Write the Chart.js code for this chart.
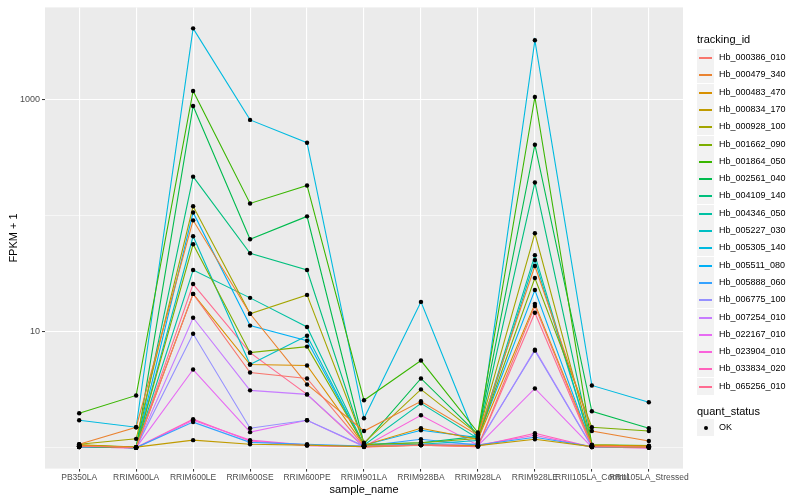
<!DOCTYPE html>
<html>
<head>
<meta charset="utf-8">
<script src="https://cdn.jsdelivr.net/npm/chart.js@4.4.1/dist/chart.umd.min.js"></script>
<style>
  body { margin: 0; background: #fff; font-family: "Liberation Sans", Arial, sans-serif; }
  #wrap { position: relative; width: 800px; height: 500px; }
  canvas { position: absolute; left: 0; top: 0; }
  .lg-title { position: absolute; left: 697px; font-size: 11px; color: #000; line-height: 12px; }
  .lg-key { position: absolute; left: 697px; width: 17px; height: 17px; background: #F2F2F2; }
  .lg-key span { position: absolute; left: 2px; right: 2px; top: 8px; height: 1px; border-top: 0.5px solid; }
  .lg-key i { position: absolute; left: 7px; top: 7px; width: 4px; height: 4px; border-radius: 2px; background: #000; }
  .lg-label { position: absolute; left: 719px; font-size: 9px; line-height: 10px; color: #000; }
</style>
</head>
<body>
<div id="wrap">
  <canvas id="chart" width="800" height="500"></canvas>
  <div id="legend"></div>
</div>
<script>
const sampleNames = ["PB350LA", "RRIM600LA", "RRIM600LE", "RRIM600SE", "RRIM600PE", "RRIM901LA",
  "RRIM928BA", "RRIM928LA", "RRIM928LE", "RRII105LA_Control", "RRII105LA_Stressed"];

const trackingIds = ["Hb_000386_010", "Hb_000479_340", "Hb_000483_470", "Hb_000834_170", "Hb_000928_100",
  "Hb_001662_090", "Hb_001864_050", "Hb_002561_040", "Hb_004109_140", "Hb_004346_050",
  "Hb_005227_030", "Hb_005305_140", "Hb_005511_080", "Hb_005888_060", "Hb_006775_100",
  "Hb_007254_010", "Hb_022167_010", "Hb_023904_010", "Hb_033834_020", "Hb_065256_010"];

const lineColors = ["#F8766D", "#EA8331", "#D89000", "#C09B00", "#A3A500", "#7CAE00", "#39B600",
  "#00BB4E", "#00BF7D", "#00C1A3", "#00BFC4", "#00BAE0", "#00B0F6", "#35A2FF", "#9590FF",
  "#C77CFF", "#E76BF3", "#FA62DB", "#FF62BC", "#FF6C91"];

// FPKM + 1 per sample
const hb000386 = [1.03, 1.0, 21.2, 4.45, 3.95, 1.03, 1.05, 1.02, 16.7, 1.03, 1.01];
const hb000479 = [1.07, 1.5, 91.5, 14.3, 3.51, 1.39, 2.51, 1.28, 36.9, 1.39, 1.14];
const hb000483 = [1.05, 1.0, 21.2, 5.21, 5.11, 1.05, 1.47, 1.18, 17.4, 1.05, 1.03];
const hb000834 = [1.04, 1.01, 1.16, 1.07, 1.05, 1.02, 1.05, 1.04, 1.18, 1.02, 1.01];
const hb000928 = [1.07, 1.19, 121, 14.3, 20.8, 1.1, 3.18, 1.3, 70.7, 1.05, 1.03];
const hb001662 = [1.06, 1.01, 56.9, 6.6, 7.44, 1.06, 1.1, 1.2, 29.1, 1.5, 1.39];
const hb001864 = [1.98, 2.82, 1195, 128, 183, 2.56, 5.64, 1.35, 1061, 1.06, 1.04];
const hb002561 = [1.02, 1.0, 888, 62.9, 99, 1.08, 3.95, 1.3, 411, 2.06, 1.47];
const hb004109 = [1.03, 1.0, 218, 47.6, 34.1, 1.07, 1.1, 1.25, 194, 1.04, 1.02];
const hb004346 = [1.03, 1.01, 34.1, 19.6, 11.0, 1.05, 2.41, 1.2, 45.8, 1.03, 1.02];
const hb005227 = [1.04, 1.0, 66.7, 5.21, 9.24, 1.04, 1.07, 1.15, 41.5, 1.04, 1.02];
const hb005305 = [1.72, 1.5, 4150, 673, 428, 1.79, 18.1, 1.1, 3273, 3.44, 2.46];
const hb005511 = [1.03, 1.0, 107, 11.3, 8.37, 1.05, 1.41, 1.22, 22.9, 1.03, 1.02];
const hb005888 = [1.02, 1.0, 1.66, 1.11, 1.07, 1.03, 1.18, 1.05, 1.23, 1.02, 1.01];
const hb006775 = [1.02, 1.0, 9.6, 1.47, 1.72, 1.03, 1.07, 1.08, 6.87, 1.02, 1.01];
const hb007254 = [1.02, 1.0, 13.2, 3.12, 2.88, 1.03, 1.05, 1.06, 7.0, 1.02, 1.0];
const hb022167 = [1.01, 1.0, 4.72, 1.36, 1.72, 1.02, 1.06, 1.04, 3.24, 1.01, 1.0];
const hb023904 = [1.01, 1.0, 1.72, 1.16, 1.05, 1.02, 1.9, 1.05, 1.28, 1.01, 1.0];
const hb033834 = [1.01, 1.0, 1.76, 1.14, 1.04, 1.02, 1.07, 1.03, 1.33, 1.01, 1.0];
const hb065256 = [1.01, 1.0, 25.8, 6.6, 2.88, 1.01, 1.05, 1.02, 14.6, 1.01, 1.0];

const seriesValues = [hb000386, hb000479, hb000483, hb000834, hb000928, hb001662, hb001864,
  hb002561, hb004109, hb004346, hb005227, hb005305, hb005511, hb005888, hb006775, hb007254,
  hb022167, hb023904, hb033834, hb065256];

const yTicks = [1, 10, 100, 1000];
const yLabelled = [10, 1000];

const toPoints = (vals) => vals.map((v, i) => ({ x: i, y: v }));

const lineSets = seriesValues.map((vals, k) => ({
  label: trackingIds[k],
  data: toPoints(vals),
  borderColor: lineColors[k],
  borderWidth: 1.1,
  pointRadius: 0,
  tension: 0,
  order: 2
}));
const pointSets = seriesValues.map((vals, k) => ({
  label: trackingIds[k] + " OK",
  data: toPoints(vals),
  showLine: false,
  pointRadius: 2.2,
  pointBackgroundColor: "#000",
  pointBorderWidth: 0,
  order: 1
}));

// grey ggplot panel
const panelBg = {
  id: "panelBg",
  beforeDraw(chart) {
    const { ctx, chartArea: a } = chart;
    ctx.save();
    ctx.fillStyle = "#EBEBEB";
    ctx.fillRect(a.left, a.top, a.right - a.left, a.bottom - a.top);
    ctx.restore();
  }
};

new Chart(document.getElementById("chart"), {
  type: "line",
  data: { datasets: lineSets.concat(pointSets) },
  plugins: [panelBg],
  options: {
    responsive: false,
    animation: false,
    devicePixelRatio: 1,
    layout: { padding: { top: 5, right: 117, left: 0, bottom: 0 } },
    plugins: { legend: { display: false }, tooltip: { enabled: false } },
    scales: {
      x: {
        type: "linear",
        min: -0.6,
        max: 10.6,
        afterBuildTicks: (s) => { s.ticks = sampleNames.map((_, i) => ({ value: i })); },
        afterFit: (s) => { s.height = 31.4; },
        ticks: {
          autoSkip: false, maxRotation: 0, minRotation: 0, padding: 1,
          color: "#4D4D4D", font: { family: "Liberation Sans", size: 8.5 },
          callback: (v) => sampleNames[v]
        },
        grid: { color: "#FFFFFF", lineWidth: 1.1, tickLength: 3, tickColor: "#333333", tickWidth: 1 },
        border: { display: false },
        title: { display: true, text: "sample_name", color: "#000", padding: { top: 0, bottom: 3 },
          font: { family: "Liberation Sans", size: 11 } }
      },
      y: {
        type: "logarithmic",
        min: 0.659,
        max: 6295,
        afterBuildTicks: (s) => { s.ticks = yTicks.map(v => ({ value: v })); },
        afterFit: (s) => { s.width = 45; },
        ticks: {
          padding: 2, color: "#4D4D4D", font: { family: "Liberation Sans", size: 9 },
          callback: (v) => yLabelled.includes(v) ? String(v) : ""
        },
        grid: {
          color: "#FFFFFF",
          lineWidth: (c) => yLabelled.includes(c.tick && c.tick.value) ? 1.1 : 0.55,
          tickLength: 3,
          tickColor: (c) => yLabelled.includes(c.tick && c.tick.value) ? "#333333" : "rgba(0,0,0,0)",
          tickWidth: 1
        },
        border: { display: false },
        title: { display: true, text: "FPKM + 1", color: "#000", padding: { top: 7, bottom: 0 },
          font: { family: "Liberation Sans", size: 11 } }
      }
    }
  }
});

// ggplot style legend on the right
const legend = document.getElementById("legend");
let html = '<div class="lg-title" style="top:33px">tracking_id</div>';
trackingIds.forEach((id, i) => {
  const cy = Math.round(57 + i * 17.3);
  html += `<div class="lg-key" style="top:${cy - 8}px"><span style="background:${lineColors[i]};border-color:${lineColors[i]}"></span></div>`;
  html += `<div class="lg-label" style="top:${cy - 5}px">${id}</div>`;
});
html += '<div class="lg-title" style="top:405px">quant_status</div>';
html += '<div class="lg-key" style="top:419px"><i></i></div>';
html += '<div class="lg-label" style="top:422px">OK</div>';
legend.innerHTML = html;
</script>
</body>
</html>
